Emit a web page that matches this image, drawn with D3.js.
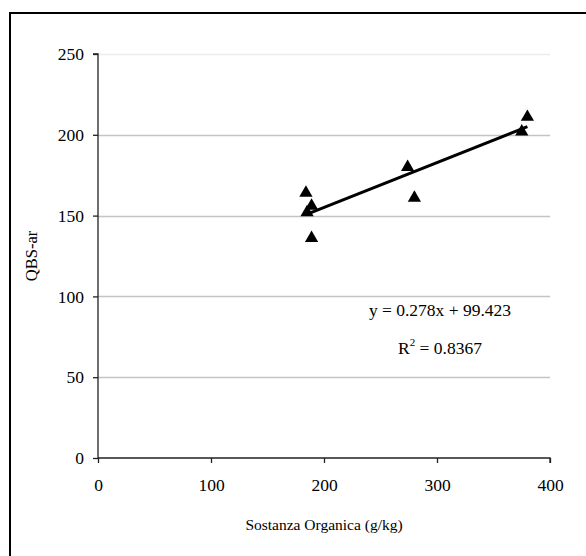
<!DOCTYPE html>
<html><head><meta charset="utf-8">
<script src="https://cdn.jsdelivr.net/npm/d3@7"></script>
<style>body{margin:0;background:#fff}svg{display:block}</style>
</head><body>
<script>
const xValues = [184, 189, 185, 189, 274, 280, 375, 380];
const yValues = [164, 156, 152, 136, 180, 161, 202, 211];
const xTicks = [0, 100, 200, 300, 400];
const yTicks = [0, 50, 100, 150, 200, 250];
const slope = 0.278, intercept = 99.423, r2 = "0.8367";
const xTitle = "Sostanza Organica (g/kg)";
const yTitle = "QBS-ar";

const W = 586, H = 556;
const svg = d3.select("body").append("svg").attr("width", W).attr("height", H);
const font = "'Liberation Serif','Times New Roman',serif";
const fs = 17.5;

// outer frame
svg.append("rect").attr("x", 10).attr("y", 13).attr("width", 600).attr("height", 600)
  .attr("fill", "none").attr("stroke", "#000").attr("stroke-width", 2);

const x = d3.scaleLinear().domain([0, 400]).range([98, 550]);
const y = d3.scaleLinear().domain([0, 250]).range([458, 54]);

// gridlines
svg.append("g").selectAll("line").data(yTicks.filter(d => d > 0)).join("line")
  .attr("x1", x(0)).attr("x2", x(400))
  .attr("y1", d => Math.round(y(d)) + 0.5).attr("y2", d => Math.round(y(d)) + 0.5)
  .attr("stroke", d => d === 250 ? "#ececec" : "#c4c4c4").attr("stroke-width", 1.3);

// axes
const yAxis = d3.axisLeft(y).tickValues(yTicks).tickSize(5).tickPadding(9);
const gy = svg.append("g").attr("transform", `translate(${x(0)},0)`).call(yAxis);
const xAxis = d3.axisBottom(x).tickValues(xTicks).tickSize(5).tickPadding(16);
const gx = svg.append("g").attr("transform", `translate(0,${y(0)})`).call(xAxis);
[gx, gy].forEach(g => {
  g.select(".domain").attr("stroke", "#222").attr("stroke-width", 1.3);
  g.selectAll(".tick line").attr("stroke", "#222").attr("stroke-width", 1.3);
  g.selectAll("text").attr("font-family", font).attr("font-size", fs).attr("fill", "#000");
});
gx.select(".domain").attr("d", `M${x(0)},0H${x(400)}V5`);
gy.select(".domain").attr("d", `M-5,${y(250)}H0V${y(0)}`);

// trendline
const xmin = d3.min(xValues), xmax = d3.max(xValues);
svg.append("line")
  .attr("x1", x(xmin)).attr("y1", y(slope * xmin + intercept))
  .attr("x2", x(xmax)).attr("y2", y(slope * xmax + intercept))
  .attr("stroke", "#000").attr("stroke-width", 3);

// markers
const tri = d3.symbol().type(d3.symbolTriangle).size(76);
svg.append("g").selectAll("path").data(xValues.map((d, i) => [d, yValues[i]])).join("path")
  .attr("transform", d => `translate(${x(d[0])},${y(d[1])})`)
  .attr("d", tri).attr("fill", "#000");

// equation
const eq = svg.append("g").attr("font-family", font).attr("font-size", fs).attr("text-anchor", "middle");
eq.append("text").attr("x", 440).attr("y", 316).text(`y = ${slope}x + ${intercept}`);
const rt = eq.append("text").attr("x", 440).attr("y", 354);
rt.append("tspan").text("R");
rt.append("tspan").attr("font-size", 11).attr("dy", -8).text("2");
rt.append("tspan").attr("dy", 8).text(` = ${r2}`);

// titles
svg.append("text").attr("x", (x(0) + x(400)) / 2).attr("y", 530)
  .attr("text-anchor", "middle").attr("font-family", font).attr("font-size", 15.5).text(xTitle);
svg.append("text").attr("transform", `translate(37,${(y(0) + y(250)) / 2}) rotate(-90)`)
  .attr("text-anchor", "middle").attr("font-family", font).attr("font-size", 16.5).text(yTitle);
</script>
</body></html>
